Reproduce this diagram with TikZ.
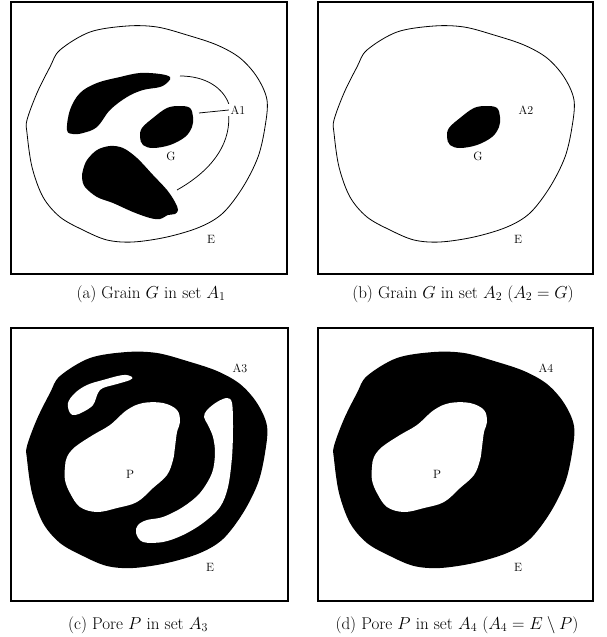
\documentclass[tikz,border=0pt]{standalone}
\usetikzlibrary{positioning}

\tikzset{every picture/.style={line width=0.75pt}}
\tikzset{
  panel/.style={line width=1.1pt},
  edge/.style={line width=0.8pt},
  lbl/.style={font=\fontsize{12}{14}\selectfont, inner sep=1.5pt},
  captxt/.style={font=\fontsize{17}{20}\selectfont, inner sep=0pt}
}

% outer contour of the sample (E), in panel coordinates
\newcommand{\grainEdge}{plot[smooth cycle, tension=0.55] coordinates {(49,48) (79,30) (116,24) (146,25) (176,33) (206,43) (229,56) (246,75) (256,98) (254,125) (247,155) (232,185) (212,211) (189,225) (156,235) (122,240) (96,238) (72,228) (49,215) (32,195) (21,165) (16,131) (16,118) (26,91) (39,65)}}
% grain G
\newcommand{\grainG}{plot[smooth cycle, tension=0.6] coordinates {(129,135) (131,126) (142,116) (156,106) (169,104) (179,106) (182,115) (181,125) (174,135) (159,143) (142,146) (132,143)}}
% pore P
\newcommand{\poreP}{plot[smooth cycle, tension=0.6] coordinates {(54,139) (56,129) (64,119) (82,107) (99,97) (116,82) (132,75) (152,75) (166,82) (169,94) (166,104) (164,119) (162,132) (156,147) (142,160) (126,174) (106,180) (86,184) (69,179) (59,165) (54,152)}}

\begin{document}
\begin{tikzpicture}[x=1pt,y=1pt,yscale=-1]
\useasboundingbox (0,0) rectangle (607,637);

%Panel (a): grain G in set A1
\begin{scope}[shift={(11,2)}]
\draw[panel] (0,0) rectangle (276,272);
%Shape: outer contour
\draw[edge] \grainEdge;
%Shape: upper grain
\fill plot[smooth cycle, tension=0.6] coordinates {(56,128) (59,108) (69,91) (86,81) (109,75) (129,71) (149,72) (159,75) (157,80) (149,85) (132,88) (116,95) (99,108) (86,125) (72,131) (62,132)};
%Shape: grain G
\fill \grainG;
%Shape: lower grain
\fill plot[smooth cycle, tension=0.55] coordinates {(72,168) (76,158) (86,148) (99,144) (112,146) (126,156) (142,173) (156,188) (164,200) (167,208) (164,212) (157,213) (149,217) (139,216) (122,210) (102,201) (86,195) (74,185) (71,176)};
\node[lbl] (labA1) at (227,108) {A1};
\node[lbl] (labG1) at (160,154) {G};
\node[lbl] (labE1) at (200,237) {E};
\coordinate (tipU) at (169,74);
\coordinate (tipG) at (188,111);
\coordinate (tipL) at (166,188);
%Curve Lines
\draw (tipU) .. controls (195,74) and (212,86) .. (labA1.north west);
\draw (tipG) -- (labA1.west);
\draw (labA1.south west) .. controls (219,145) and (198,170) .. (tipL);
\end{scope}

%Panel (b): grain G in set A2
\begin{scope}[shift={(318,2)}]
\draw[panel] (0,0) rectangle (275,272);
\draw[edge] \grainEdge;
\fill \grainG;
\node[lbl] (labA2) at (208,108) {A2};
\node[lbl] (labG2) at (160,154) {G};
\node[lbl] (labE2) at (200,237) {E};
\end{scope}

%Panel (c): pore P in set A3
\begin{scope}[shift={(11,328)}]
\draw[panel] (0,0) rectangle (277,273);
\fill \grainEdge;
\fill[white] plot[smooth cycle, tension=0.6] coordinates {(59,85) (57,75) (64,65) (76,57) (92,52) (112,47) (121,49) (119,52) (106,56) (92,60) (87,65) (82,77) (72,84) (64,87)};
\fill[white] \poreP;
\fill[white] plot[smooth cycle, tension=0.55] coordinates {(196,82) (206,74) (216,70) (221,75) (222,99) (221,129) (217,159) (209,179) (192,195) (172,207) (152,214) (132,214) (125,205) (127,197) (136,192) (152,189) (172,179) (189,165) (201,145) (204,125) (202,109) (197,97) (193,89)};
\node[lbl] (labA3) at (229,40) {A3};
\node[lbl] (labP3) at (119,146) {P};
\node[lbl] (labE3) at (199,239) {E};
\end{scope}

%Panel (d): pore P in set A4
\begin{scope}[shift={(318,328)}]
\draw[panel] (0,0) rectangle (275,273);
\fill \grainEdge;
\fill[white] \poreP;
\node[lbl] (labA4) at (228,40) {A4};
\node[lbl] (labP4) at (119,146) {P};
\node[lbl] (labE4) at (200,239) {E};
\end{scope}

%Captions
\node[captxt] (capA) at (151,294) {(a) Grain $G$ in set $A_1$};
\node[captxt] (capB) at (463,294) {(b) Grain $G$ in set $A_2$ ($A_2=G$)};
\node[captxt] (capC) at (138,625) {(c) Pore $P$ in set $A_3$};
\node[captxt] (capD) at (457,625) {(d) Pore $P$ in set $A_4$ ($A_4=E\setminus P$)};

\end{tikzpicture}
\end{document}
